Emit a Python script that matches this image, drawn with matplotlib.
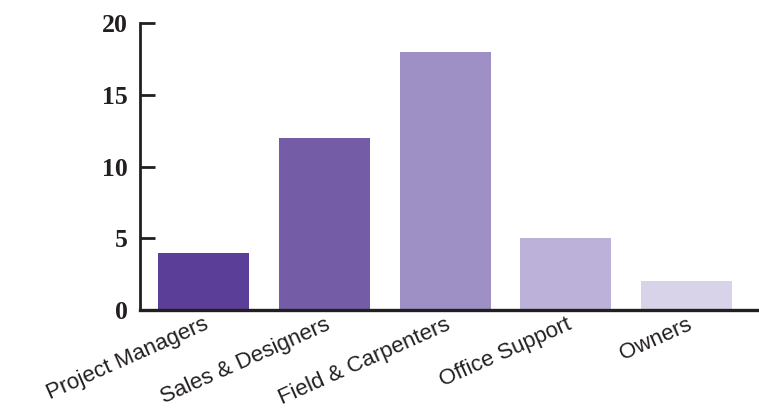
import matplotlib
matplotlib.use("Agg")
import matplotlib.pyplot as plt

categories = ["Project Managers", "Sales & Designers", "Field & Carpenters", "Office Support", "Owners"]
values = [4, 12, 18, 5, 2]
colors = ["#5a3e97", "#745ca7", "#9e8fc5", "#bcb1d8", "#d9d3e9"]
yticks = [0, 5, 10, 15, 20]

fig = plt.figure(figsize=(7.59, 4.12), dpi=100)
ax = fig.add_axes([140 / 759, 102 / 412, 619 / 759, 287 / 412])

x = list(range(len(categories)))
ax.bar(x, values, width=0.754, color=colors, zorder=2)

ax.set_xlim(-0.526, 4.6)
ax.set_ylim(0, 20)

for side in ("top", "right"):
    ax.spines[side].set_visible(False)
ax.spines["left"].set_linewidth(2.0)
ax.spines["bottom"].set_linewidth(2.4)
ax.spines["left"].set_color("#231f20")
ax.spines["bottom"].set_color("#231f20")
ax.spines["bottom"].set_zorder(3)

ax.set_yticks(yticks)
ax.set_yticklabels([str(t) for t in yticks], fontfamily="Liberation Serif",
                   fontweight="bold", fontsize=18.5, color="#231f20")
ax.tick_params(axis="y", direction="in", length=11, width=2.0, color="#231f20", pad=9)

ax.set_xticks(x)
ax.set_xticklabels(categories, rotation=24, ha="right", va="top",
                   rotation_mode="anchor", fontfamily="Liberation Sans",
                   fontsize=16, color="#231f20")
ax.tick_params(axis="x", length=0, pad=3)

fig.savefig("out.png", dpi=100)
